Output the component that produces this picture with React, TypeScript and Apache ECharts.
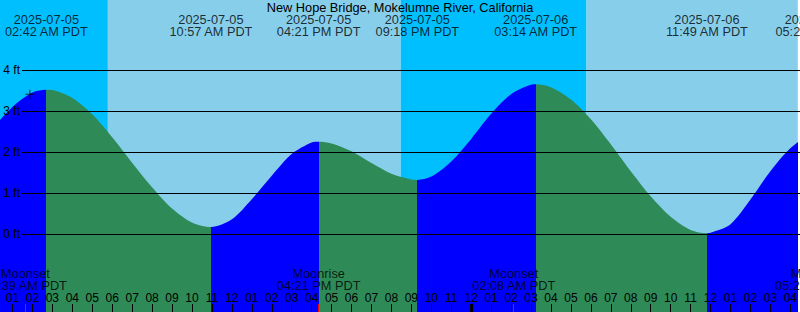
import React, { useEffect, useRef } from 'react';
import * as echarts from 'echarts';

const TITLE = 'New Hope Bridge, Mokelumne River, California';

// Hours after 2025-07-05 00:00 PDT, water level in feet
const tideHours = [0, 1, 2, 2.7, 3, 4, 5, 6, 7, 8, 9, 10, 10.95, 12, 13, 14, 15, 16, 16.35, 17, 18, 19, 20, 21, 21.3, 22, 23, 24, 25, 26, 27, 27.233, 28, 29, 30, 31, 32, 33, 34, 35, 35.817, 36, 37, 38, 39, 40, 41, 41.35];
const tideFeet = [2.57, 3.10, 3.45, 3.52, 3.51, 3.32, 2.92, 2.36, 1.74, 1.14, 0.62, 0.28, 0.17, 0.36, 0.85, 1.42, 1.95, 2.23, 2.25, 2.21, 2.02, 1.73, 1.47, 1.33, 1.32, 1.40, 1.77, 2.32, 2.93, 3.41, 3.64, 3.65, 3.58, 3.28, 2.80, 2.19, 1.53, 0.92, 0.42, 0.10, 0.02, 0.03, 0.24, 0.84, 1.53, 2.09, 2.43, 2.45];

// Tide extremes (high / low)
const extremeHours = [2.7, 10.95, 16.35, 21.3, 27.233, 35.817, 41.35];
const extremeKinds = ['high', 'low', 'high', 'low', 'high', 'low', 'high'];
const extremeDates = ['2025-07-05', '2025-07-05', '2025-07-05', '2025-07-05', '2025-07-06', '2025-07-06', '2025-07-06'];
const extremeTimes = ['02:42 AM PDT', '10:57 AM PDT', '04:21 PM PDT', '09:18 PM PDT', '03:14 AM PDT', '11:49 AM PDT', '05:21 PM PDT'];

// Moon events
const moonHours = [1.65, 16.35, 26.133, 41.33];
const moonEvents = ['Moonset', 'Moonrise', 'Moonset', 'Moonrise'];
const moonTimes = ['01:39 AM PDT', '04:21 PM PDT', '02:08 AM PDT', '05:20 PM PDT'];

// Sun events
const sunriseHours = [5.783, 29.783];
const sunsetHours = [20.467];

// Axis ticks
const hourTicks = [1, 2, 3, 4, 5, 6, 7, 8, 9, 10, 11, 12, 13, 14, 15, 16, 17, 18, 19, 20, 21, 22, 23, 24, 25, 26, 27, 28, 29, 30, 31, 32, 33, 34, 35, 36, 37, 38, 39, 40];
const midnightTicks = [24];
const levelTicks = [0, 1, 2, 3, 4];

// Cross mark
const markHours = [1.875];
const markFeet = [3.41];

const FONT = '"Liberation Sans", Arial, Helvetica, sans-serif';
const FLOOD = '#0000FF';
const EBB = '#2E8B57';
const DAY = '#87CEEB';
const NIGHT = '#00BFFF';
const BIG = 12.75;

const X_MIN = 0.375;
const X_MAX = 40.375;
const PX_PER_FT = 41;
const ZERO_PX = 234;
const H = 312;
const Y_MIN = -(H - ZERO_PX) / PX_PER_FT;
const Y_MAX = ZERO_PX / PX_PER_FT;
const pxToFt = (px: number) => (ZERO_PX - px) / PX_PER_FT;

function buildPieces() {
  const pieces: any[] = [];
  for (let i = 0; i <= extremeHours.length; i++) {
    const nextKind = i < extremeKinds.length ? extremeKinds[i] : extremeKinds[i - 1] === 'high' ? 'low' : 'high';
    const color = nextKind === 'high' ? FLOOD : EBB;
    const p: any = { color };
    if (i > 0) p.gte = extremeHours[i - 1];
    if (i < extremeHours.length) p.lt = extremeHours[i];
    pieces.push(p);
  }
  return pieces;
}

function buildSky() {
  const events = [
    ...sunriseHours.map((h) => ({ h, rise: true })),
    ...sunsetHours.map((h) => ({ h, rise: false })),
  ].sort((a, b) => a.h - b.h);
  const out: any[] = [];
  let start = X_MIN;
  let isDay = events.length ? !events[0].rise : true;
  for (const e of events) {
    out.push([{ xAxis: start, itemStyle: { color: isDay ? DAY : NIGHT, opacity: 1 } }, { xAxis: e.h }]);
    start = e.h;
    isDay = e.rise;
  }
  out.push([{ xAxis: start, itemStyle: { color: isDay ? DAY : NIGHT, opacity: 1 } }, { xAxis: X_MAX }]);
  return out;
}

const hourLabel = (v: number) => {
  const h = ((Math.round(v) % 12) + 12) % 12 || 12;
  return String(h).padStart(2, '0');
};

export default function App() {
  const ref = useRef<HTMLDivElement>(null);
  useEffect(() => {
    document.body.style.margin = '0';
    if (!ref.current) return;
    const chart = echarts.init(ref.current, undefined, { renderer: 'svg' });
    const baseX = {
      type: 'value',
      min: X_MIN,
      max: X_MAX,
      z: 10,
      splitLine: { show: false },
      axisLine: { show: false, onZero: false },
    };
    chart.setOption({
      animation: false,
      backgroundColor: '#ffffff',
      textStyle: { fontFamily: FONT },
      title: {
        text: TITLE,
        left: 'center',
        top: 1,
        padding: 0,
        textStyle: { fontSize: BIG, fontWeight: 'normal', color: '#000', fontFamily: FONT },
      },
      grid: [
        { left: 0, right: 0, top: 0, bottom: 0 },
        { left: 22, right: 0, top: 70, bottom: 78 },
      ],
      xAxis: [
        {
          ...baseX,
          gridIndex: 0,
          position: 'bottom',
          axisTick: { show: true, inside: true, length: 8, customValues: hourTicks, lineStyle: { color: '#000', width: 1 } },
          axisLabel: {
            show: true,
            inside: true,
            customValues: hourTicks,
            formatter: hourLabel,
            color: '#000',
            fontSize: 12,
            fontFamily: FONT,
            margin: 8,
          },
        },
        {
          ...baseX,
          gridIndex: 0,
          position: 'bottom',
          axisTick: { show: true, inside: true, length: 8, customValues: midnightTicks, lineStyle: { color: '#000', width: 3 } },
          axisLabel: { show: false },
        },
        {
          ...baseX,
          gridIndex: 0,
          position: 'bottom',
          axisTick: { show: true, inside: true, length: 8, customValues: moonHours, lineStyle: { color: '#FF0000', width: 1 } },
          axisLabel: { show: false },
        },
        { ...baseX, gridIndex: 1, show: false },
      ],
      yAxis: [
        { type: 'value', gridIndex: 0, min: Y_MIN, max: Y_MAX, show: false },
        {
          type: 'value',
          gridIndex: 1,
          min: 0,
          max: 4,
          interval: 1,
          z: 10,
          axisLine: { show: false, onZero: false },
          axisTick: { show: false },
          splitLine: { show: true, lineStyle: { color: '#000', width: 1 } },
          axisLabel: {
            customValues: levelTicks,
            formatter: '{value} ft',
            margin: 2,
            color: '#000',
            fontSize: 12,
            fontFamily: FONT,
          },
        },
      ],
      visualMap: {
        type: 'piecewise',
        show: false,
        dimension: 0,
        seriesIndex: 0,
        pieces: buildPieces(),
      },
      series: [
        {
          type: 'line',
          xAxisIndex: 0,
          yAxisIndex: 0,
          data: tideHours.map((h, i) => [h, tideFeet[i]]),
          smooth: 0.3,
          symbol: 'none',
          silent: true,
          z: 3,
          lineStyle: { width: 0 },
          areaStyle: { opacity: 1, origin: 'start' },
          markArea: { silent: true, data: buildSky() },
        },
        {
          type: 'scatter',
          xAxisIndex: 0,
          yAxisIndex: 0,
          clip: false,
          silent: true,
          z: 6,
          symbolSize: 1,
          itemStyle: { color: 'rgba(0,0,0,0)' },
          data: extremeHours.map((h) => [h, pxToFt(25.6)]),
          label: {
            show: true,
            position: 'inside',
            color: '#000',
            fontSize: BIG,
            lineHeight: 12.2,
            fontFamily: FONT,
            formatter: (p: any) => extremeDates[p.dataIndex] + '\n' + extremeTimes[p.dataIndex],
          },
        },
        {
          type: 'scatter',
          xAxisIndex: 0,
          yAxisIndex: 0,
          clip: false,
          silent: true,
          z: 6,
          symbolSize: 1,
          itemStyle: { color: 'rgba(0,0,0,0)' },
          data: moonHours.map((h) => [h, pxToFt(279.4)]),
          label: {
            show: true,
            position: 'inside',
            color: '#000',
            fontSize: BIG,
            lineHeight: 11.4,
            fontFamily: FONT,
            formatter: (p: any) => moonEvents[p.dataIndex] + '\n' + moonTimes[p.dataIndex],
          },
        },
        {
          type: 'scatter',
          xAxisIndex: 0,
          yAxisIndex: 0,
          silent: true,
          z: 7,
          symbol: 'path://M0,4H9V5H0ZM4,0H5V9H4Z',
          symbolSize: 9,
          itemStyle: { color: '#000' },
          data: markHours.map((h, i) => [h, markFeet[i]]),
        },
      ],
    });
    return () => chart.dispose();
  }, []);
  return <div ref={ref} style={{ width: 800, height: 312 }} />;
}
